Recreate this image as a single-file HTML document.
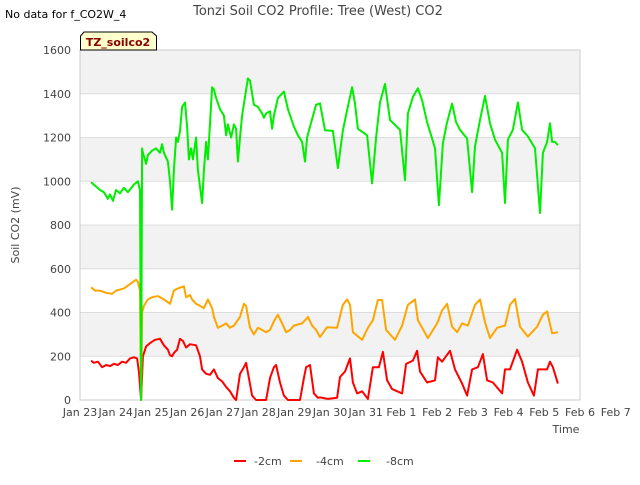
<!DOCTYPE html>
<html><head><meta charset="utf-8"><style>
body{margin:0;background:#fff;font-family:"Liberation Sans","DejaVu Sans",sans-serif}
svg text{font-family:"DejaVu Sans","Liberation Sans",sans-serif}
</style></head><body>
<svg id="c" width="640" height="480" xmlns="http://www.w3.org/2000/svg">
<rect width="640" height="480" fill="#fff"/>
<g id="bands"></g><g id="grid"></g>
<rect x="80" y="50" width="500" height="350" fill="none" stroke="#ccc"/>
<g id="ylab"></g><g id="xlab"></g><g id="series"></g>
<text x="5" y="18" font-size="11" fill="#000">No data for f_CO2W_4</text>
<text x="318" y="15" font-size="13" fill="#444" text-anchor="middle">Tonzi Soil CO2 Profile: Tree (West) CO2</text>
<g><path d="M80.5,50 L80.5,36 L84,32 L152,32 L156.5,36 L156.5,50 Z" fill="#ffffcc" stroke="#000"/>
<text x="118" y="46" font-size="11" font-weight="bold" fill="#8b0000" text-anchor="middle">TZ_soilco2</text></g>
<text x="19" y="225" font-size="11" fill="#444" text-anchor="middle" transform="rotate(-90 19 225)">Soil CO2 (mV)</text>
<text x="566" y="433" font-size="11" fill="#444" text-anchor="middle">Time</text>
<g>
<g><line x1="234" y1="461" x2="246" y2="461" stroke="#ff0000" stroke-width="2"/><text x="254" y="465" font-size="11" fill="#444">-2cm</text></g>
<g><line x1="290" y1="461" x2="302" y2="461" stroke="#ffa500" stroke-width="2"/><text x="316" y="465" font-size="11" fill="#444">-4cm</text></g>
<g><line x1="358" y1="461" x2="370" y2="461" stroke="#00ee00" stroke-width="2"/><text x="386" y="465" font-size="11" fill="#444">-8cm</text></g>
</g>
</svg>
<script>
const xTicks=["Jan 23","Jan 24","Jan 25","Jan 26","Jan 27","Jan 28","Jan 29","Jan 30","Jan 31","Feb 1","Feb 2","Feb 3","Feb 4","Feb 5","Feb 6","Feb 7"];
const yTicks=[0,200,400,600,800,1000,1200,1400,1600];
const greenT=[0.31,0.56,0.67,0.78,0.84,0.92,1.01,1.12,1.23,1.34,1.51,1.62,1.68,1.71,1.74,1.76,1.85,1.90,2.02,2.13,2.24,2.30,2.35,2.46,2.52,2.58,2.63,2.69,2.74,2.80,2.86,2.94,3.00,3.05,3.11,3.16,3.25,3.30,3.42,3.47,3.53,3.58,3.70,3.75,3.81,3.92,4.03,4.09,4.14,4.23,4.31,4.37,4.42,4.48,4.54,4.70,4.76,4.87,4.98,5.10,5.15,5.21,5.32,5.38,5.43,5.54,5.71,5.82,5.99,6.10,6.22,6.30,6.36,6.44,6.61,6.72,6.86,7.08,7.22,7.36,7.48,7.62,7.70,7.78,8.04,8.18,8.29,8.40,8.54,8.68,8.96,9.10,9.18,9.32,9.46,9.58,9.72,9.86,9.94,10.05,10.16,10.28,10.42,10.53,10.64,10.84,10.98,11.06,11.20,11.34,11.48,11.62,11.82,11.90,11.98,12.12,12.26,12.38,12.54,12.74,12.88,12.96,13.08,13.16,13.22,13.30,13.38];
const greenV=[995,960,950,920,940,910,960,945,970,950,985,1000,960,0,1150,1130,1080,1120,1140,1150,1130,1170,1130,1090,1000,870,1050,1200,1180,1230,1340,1360,1250,1100,1150,1100,1200,1050,900,1050,1180,1100,1430,1420,1380,1330,1300,1210,1260,1200,1260,1240,1090,1200,1300,1470,1460,1350,1340,1310,1290,1310,1320,1240,1300,1380,1410,1330,1250,1210,1180,1090,1200,1250,1350,1356,1233,1230,1060,1233,1325,1430,1355,1240,1210,990,1200,1360,1445,1280,1235,1005,1310,1385,1425,1370,1270,1195,1150,890,1175,1270,1355,1270,1235,1195,950,1160,1280,1390,1265,1190,1130,900,1190,1235,1360,1235,1205,1150,855,1130,1180,1265,1180,1180,1165];
const orangeT=[0.31,0.42,0.56,0.73,0.90,1.01,1.23,1.40,1.57,1.62,1.68,1.71,1.74,1.79,1.90,2.02,2.18,2.35,2.52,2.63,2.74,2.91,2.97,3.08,3.14,3.25,3.36,3.47,3.58,3.70,3.75,3.86,3.98,4.09,4.20,4.31,4.48,4.59,4.65,4.76,4.87,4.98,5.10,5.21,5.32,5.43,5.54,5.66,5.77,5.88,5.99,6.10,6.22,6.33,6.38,6.50,6.61,6.72,6.92,7.20,7.36,7.48,7.56,7.64,7.90,8.06,8.20,8.34,8.46,8.57,8.82,9.02,9.18,9.38,9.46,9.74,10.00,10.14,10.28,10.42,10.56,10.70,10.86,11.06,11.20,11.34,11.48,11.68,11.90,12.04,12.18,12.32,12.54,12.80,12.96,13.08,13.22,13.38];
const orangeV=[515,500,500,490,485,500,510,530,550,540,500,0,400,430,460,470,475,460,440,500,510,520,470,480,460,440,430,420,460,420,380,330,340,350,330,340,380,440,430,330,300,330,320,310,320,360,390,350,310,320,340,345,350,370,380,340,320,288,333,330,435,460,435,310,275,330,365,457,457,320,275,340,435,460,365,283,350,410,440,335,310,350,340,435,460,355,283,330,340,435,462,335,290,335,390,405,305,310];
const redT=[0.31,0.39,0.50,0.62,0.73,0.84,0.95,1.06,1.18,1.29,1.40,1.51,1.60,1.65,1.71,1.76,1.85,1.96,2.10,2.24,2.35,2.46,2.52,2.58,2.63,2.72,2.80,2.88,2.97,3.08,3.25,3.36,3.42,3.53,3.64,3.75,3.86,3.98,4.09,4.20,4.31,4.37,4.48,4.59,4.65,4.73,4.82,4.93,5.21,5.32,5.43,5.49,5.60,5.71,5.82,6.16,6.27,6.33,6.44,6.55,6.66,6.72,6.94,7.20,7.28,7.42,7.56,7.64,7.76,7.90,8.06,8.20,8.37,8.48,8.60,8.74,9.02,9.13,9.32,9.44,9.52,9.72,9.94,10.02,10.14,10.36,10.50,10.70,10.84,10.98,11.14,11.28,11.40,11.56,11.82,11.90,12.04,12.24,12.38,12.54,12.71,12.82,13.08,13.16,13.24,13.38];
const redV=[180,170,175,150,160,155,165,160,175,170,190,195,190,130,0,200,245,260,275,280,250,230,205,200,215,230,280,270,240,255,250,200,140,120,115,140,100,85,60,40,10,0,120,150,170,100,20,0,0,100,150,160,80,20,0,0,100,150,160,30,10,12,5,10,105,130,190,80,30,40,5,150,150,220,90,50,30,165,180,225,130,80,90,195,175,225,140,75,20,140,150,210,90,80,30,140,140,230,175,80,20,140,140,175,150,75];
const NS='http://www.w3.org/2000/svg';
const X0=80,X1=580,Y0=400,Y1=50;
const xs=d=>X0+d*(X1-X0)/14;
const ys=v=>Y0-v*(Y0-Y1)/1600;
function mk(t,a,p){const e=document.createElementNS(NS,t);for(const k in a)e.setAttribute(k,a[k]);p.appendChild(e);return e;}
const bands=document.getElementById('bands'),grid=document.getElementById('grid');
for(let i=0;i<yTicks.length-1;i++){if(i%2===1){const r=mk('rect',{x:X0,y:ys(yTicks[i+1]),width:X1-X0,height:ys(yTicks[i])-ys(yTicks[i+1]),fill:'#f2f2f2'},bands);

}}
const yl=document.getElementById('ylab');
yTicks.forEach(v=>{const l=mk('line',{x1:X0,x2:X1,y1:ys(v),y2:ys(v),stroke:'#ddd'},grid);


const t=mk('text',{x:71,y:ys(v)+4,'font-size':11,fill:'#444','text-anchor':'end'},yl);t.textContent=v;

});
const xl=document.getElementById('xlab');
xTicks.forEach((s,i)=>{const t=mk('text',{x:xs(i),y:416,'font-size':11,fill:'#444','text-anchor':'middle'},xl);t.textContent=s;

});
const sg=document.getElementById('series');
[[redT,redV,'#ff0000','series-2cm'],[orangeT,orangeV,'#ffa500','series-4cm'],[greenT,greenV,'#00ee00','series-8cm']].forEach(([T,V,c,n])=>{
const d=T.map((t,i)=>(i?'L':'M')+xs(t).toFixed(1)+','+ys(V[i]).toFixed(1)).join('');
const p=mk('path',{d:d,fill:'none',stroke:c,'stroke-width':2,'stroke-linejoin':'round'},sg);

});
</script>
</body></html>
